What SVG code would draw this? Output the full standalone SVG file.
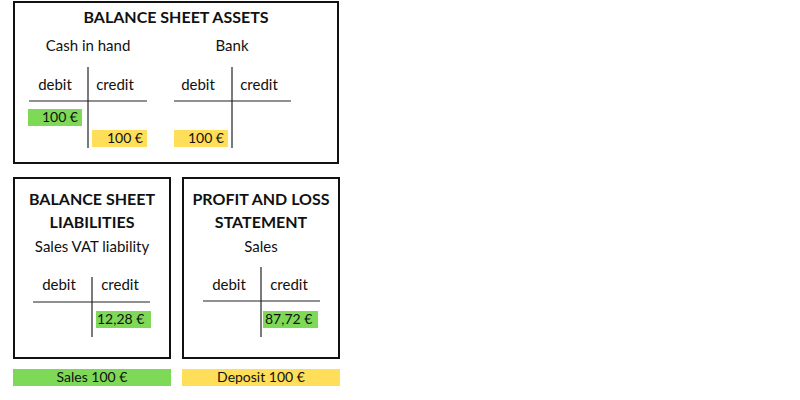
<svg xmlns="http://www.w3.org/2000/svg" width="800" height="400" viewBox="0 0 800 400">
<style>
text{font-family:Lato,"Source Sans Pro","Open Sans",sans-serif;fill:#111;}
.box{fill:#fff;stroke:#111;stroke-width:2;}
.t{font-size:16px;font-weight:bold;text-anchor:middle;}
.s{font-size:15px;text-anchor:middle;}
.v{font-size:14px;}
.ln{stroke:#222;stroke-width:1.2;}
.g{fill:#7ed957;}
.y{fill:#ffde59;}
</style>
<rect width="800" height="400" fill="#fff"/>
<g id="assets">
<rect class="box" x="14" y="2" width="324" height="161"/>
<text class="t" x="176" y="23">BALANCE SHEET ASSETS</text>
<text class="s" x="88" y="51">Cash in hand</text>
<text class="s" x="232" y="51">Bank</text>
<line class="ln" x1="88" y1="67" x2="88" y2="148"/>
<line class="ln" x1="29" y1="101" x2="147" y2="101"/>
<text class="s" x="55" y="90">debit</text>
<text class="s" x="115" y="90">credit</text>
<rect class="g" x="28" y="109" width="54" height="17"/>
<text class="v" x="78" y="122" text-anchor="end">100 €</text>
<rect class="y" x="92" y="130" width="55" height="17"/>
<text class="v" x="143" y="143" text-anchor="end">100 €</text>
<line class="ln" x1="232" y1="67" x2="232" y2="148"/>
<line class="ln" x1="174" y1="101" x2="291" y2="101"/>
<text class="s" x="198" y="90">debit</text>
<text class="s" x="259" y="90">credit</text>
<rect class="y" x="174" y="130" width="54" height="17"/>
<text class="v" x="224" y="143" text-anchor="end">100 €</text>
</g>
<g id="liabilities">
<rect class="box" x="14" y="178" width="156" height="180"/>
<text class="t" x="92" y="205">BALANCE SHEET</text>
<text class="t" x="92" y="228">LIABILITIES</text>
<text class="s" x="92" y="252">Sales VAT liability</text>
<line class="ln" x1="92" y1="277" x2="92" y2="337"/>
<line class="ln" x1="33" y1="302" x2="150" y2="302"/>
<text class="s" x="59" y="290">debit</text>
<text class="s" x="120" y="290">credit</text>
<rect class="g" x="96" y="311" width="55" height="17"/>
<text class="v" x="97" y="324">12,28 €</text>
</g>
<g id="pnl">
<rect class="box" x="183" y="178" width="156" height="180"/>
<text class="t" x="261" y="205">PROFIT AND LOSS</text>
<text class="t" x="261" y="228">STATEMENT</text>
<text class="s" x="261" y="252">Sales</text>
<line class="ln" x1="261" y1="267" x2="261" y2="337"/>
<line class="ln" x1="203" y1="301" x2="320" y2="301"/>
<text class="s" x="229" y="290">debit</text>
<text class="s" x="289" y="290">credit</text>
<rect class="g" x="263" y="311" width="55" height="17"/>
<text class="v" x="265" y="324">87,72 €</text>
</g>
<g id="legend-sales">
<rect class="g" x="13" y="369" width="158" height="17"/>
<text class="v" x="92" y="382" text-anchor="middle">Sales 100 €</text>
</g>
<g id="legend-deposit">
<rect class="y" x="182" y="369" width="158" height="17"/>
<text class="v" x="261" y="382" text-anchor="middle">Deposit 100 €</text>
</g>
<g id="connectors"></g>
</svg>
